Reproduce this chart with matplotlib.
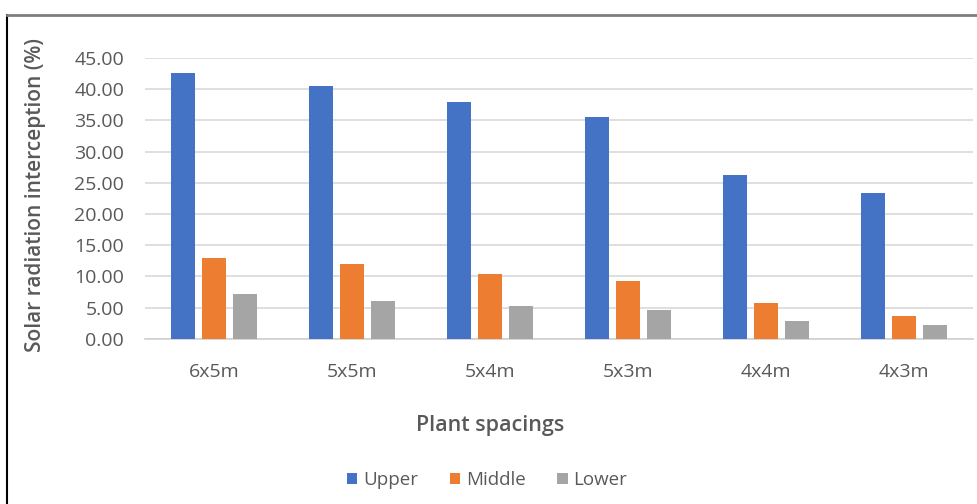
import numpy as np
import matplotlib.pyplot as plt
from matplotlib.lines import Line2D

# Solar radiation interception by canopy layer for each plant spacing
spacings = ['6x5m', '5x5m', '5x4m', '5x3m', '4x4m', '4x3m']
upper = [42.5, 40.5, 38.0, 35.5, 26.2, 23.3]
middle = [13.0, 11.95, 10.45, 9.3, 5.7, 3.6]
lower = [7.2, 6.0, 5.2, 4.65, 2.8, 2.2]
yticks = [0, 5, 10, 15, 20, 25, 30, 35, 40, 45]

plt.rcParams['font.family'] = ['Open Sans', 'DejaVu Sans']
txt = '#595959'

fig = plt.figure(figsize=(9.78, 5.04), dpi=100)
ax = fig.add_axes([0.1483, 0.3274, 0.8466, 0.558])

x = np.arange(len(spacings))
w = 0.17
off = 0.225
ax.bar(x - off, upper, w, color='#4472C4', label='Upper', zorder=3)
ax.bar(x, middle, w, color='#ED7D31', label='Middle', zorder=3)
ax.bar(x + off, lower, w, color='#A5A5A5', label='Lower', zorder=3)

ax.set_xlim(-0.5, len(spacings) - 0.5)
ax.set_ylim(0, 45)
ax.set_yticks(yticks)
ax.set_yticklabels([f'{v:.2f}' for v in yticks])
ax.set_xticks(x)
ax.set_xticklabels(spacings)
ax.grid(axis='y', color='#d9d9d9', linewidth=1.2, zorder=0)
for s in ['top', 'right', 'left']:
    ax.spines[s].set_visible(False)
ax.spines['bottom'].set_color('#d0d0d0')
ax.spines['bottom'].set_linewidth(1.2)
ax.tick_params(axis='both', length=0, colors=txt, labelsize=14)
ax.tick_params(axis='y', pad=15)
ax.tick_params(axis='x', pad=17)

fig.text(36 / 978, 1 - 195 / 504, 'Solar radiation interception (%)',
         rotation=90, ha='center', va='center', color=txt, fontsize=15,
         fontweight='semibold')
fig.text(490 / 978, 1 - 425 / 504, 'Plant spacings', ha='center',
         va='center', color=txt, fontsize=15.5, fontweight='semibold')

fig.legend(loc='center', bbox_to_anchor=(487 / 978, 1 - 480 / 504), ncol=3,
           frameon=False, fontsize=13.5, labelcolor=txt, handlelength=0.55,
           handleheight=0.55, handletextpad=0.3, columnspacing=1.7)

# outer frame of the chart area
fig.add_artist(Line2D([7 / 978, 7 / 978], [0, 1 - 14.5 / 504],
                      transform=fig.transFigure, color='black', linewidth=1.5))
fig.add_artist(Line2D([7 / 978, 1], [1 - 14.5 / 504, 1 - 14.5 / 504],
                      transform=fig.transFigure, color='#7f7f7f', linewidth=2))

fig.savefig('out.png', dpi=100)
